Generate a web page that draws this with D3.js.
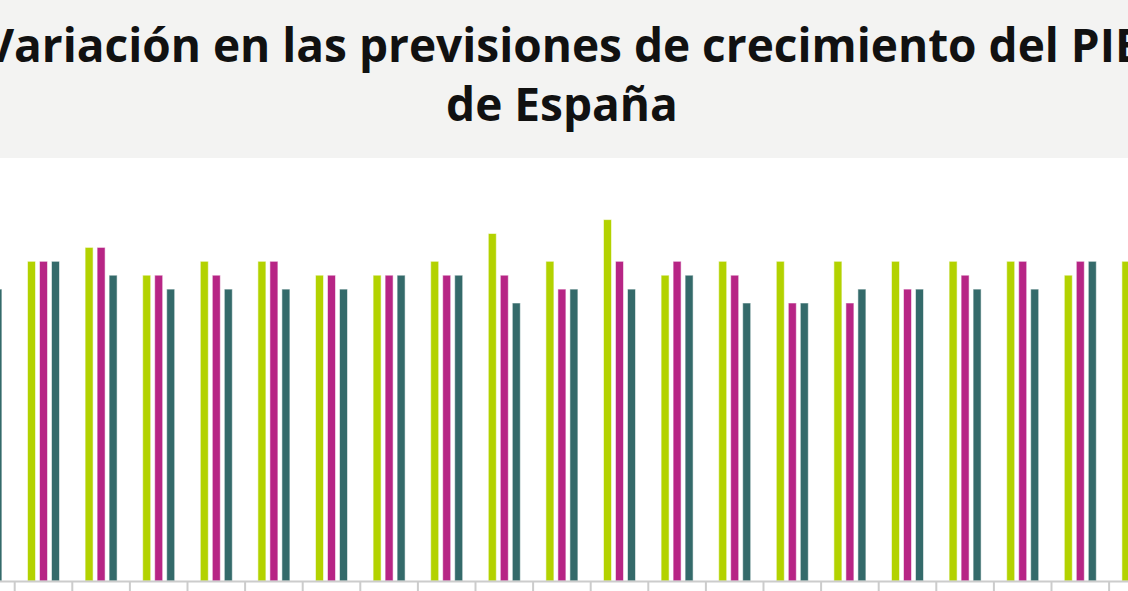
<!DOCTYPE html>
<html>
<head>
<meta charset="utf-8">
<script src="https://cdn.jsdelivr.net/npm/d3@7"></script>
<style>
    html, body { margin: 0; padding: 0; background: #ffffff; overflow: hidden; }
    #chart { width: 1128px; height: 591px; }
</style>
</head>
<body>
<div id="chart"></div>
<script>
// categorias (panel de previsiones) - las etiquetas no entran en el recorte
const categories = [
    'Consenso', 'AFI', 'BBVA Research', 'CaixaBank Research', 'Cámara de Comercio',
    'CEOE', 'CEPREDE-UAM', 'Equipo Económico', 'Funcas', 'ICAE-UCM', 'IEE',
    'Inst. Flores de Lemus', 'Intermoney', 'Mapfre', 'Repsol', 'Santander',
    'Solchaga Recio', 'Univ. Loyola', 'Gobierno', 'Banco de España', 'FMI'
];
const seriesNames = ['Previsión inicial', 'Previsión intermedia', 'Previsión actual'];
const serieInicial    = [2.3, 2.3, 2.4, 2.2, 2.3, 2.3, 2.2, 2.2, 2.3, 2.5, 2.3, 2.6, 2.2, 2.3, 2.3, 2.3, 2.3, 2.3, 2.3, 2.2, 2.3];
const serieIntermedia = [2.2, 2.3, 2.4, 2.2, 2.2, 2.3, 2.2, 2.2, 2.2, 2.2, 2.1, 2.3, 2.3, 2.2, 2.0, 2.0, 2.1, 2.2, 2.3, 2.3, 2.2];
const serieActual     = [2.1, 2.3, 2.2, 2.1, 2.1, 2.1, 2.1, 2.2, 2.2, 2.0, 2.1, 2.1, 2.2, 2.0, 2.0, 2.1, 2.1, 2.1, 2.1, 2.3, 2.1];
const yMax = 4.18;

const colors = ['#b3d200', '#b72585', '#346a6a'];
const width = 1128, height = 591;
const baseline = 581;

const rows = categories.map((c, i) => ({
    cat: c,
    values: [serieInicial[i], serieIntermedia[i], serieActual[i]]
}));

const svg = d3.select('#chart')
    .append('svg')
    .attr('width', width)
    .attr('height', height)
    .style('display', 'block');

// cabecera gris
svg.append('rect')
    .attr('x', 0)
    .attr('y', 0)
    .attr('width', width)
    .attr('height', 158)
    .attr('fill', '#f3f3f2');

const title = svg.append('text')
    .attr('text-anchor', 'middle')
    .attr('font-family', "'Open Sans', sans-serif")
    .attr('font-weight', 700)
    .attr('font-size', 46)
    .attr('fill', '#111111');
title.append('tspan').attr('x', 565).attr('y', 62).text('Variación en las previsiones de crecimiento del PIB');
title.append('tspan').attr('x', 562).attr('y', 121).text('de España');

// escalas
const x0 = d3.scaleBand()
    .domain(categories)
    .range([-42.9, 1166.7])
    .padding(0);

const x1 = d3.scaleBand()
    .domain(seriesNames)
    .range([12.8, 44.8])
    .paddingInner(1 / 3)
    .paddingOuter(0);

const y = d3.scaleLinear()
    .domain([0, yMax])
    .range([baseline, baseline - yMax * 139]);

const groups = svg.append('g')
    .selectAll('g')
    .data(rows)
    .join('g')
    .attr('transform', d => `translate(${x0(d.cat)},0)`);

groups.selectAll('rect')
    .data(d => d.values.map((v, i) => ({ name: seriesNames[i], value: v, idx: i })))
    .join('rect')
    .attr('x', d => x1(d.name))
    .attr('y', d => y(d.value))
    .attr('width', x1.bandwidth())
    .attr('height', d => y(0) - y(d.value))
    .attr('fill', d => colors[d.idx])
    .attr('stroke', '#ffffff')
    .attr('stroke-opacity', 0.55)
    .attr('stroke-width', 1);

// eje x con marcas entre categorias (sin etiquetas: quedan fuera del recorte)
const axis = svg.append('g')
    .attr('transform', `translate(0,${baseline})`)
    .call(d3.axisBottom(x0).tickSize(10).tickSizeOuter(0).tickFormat(''));

axis.select('.domain')
    .attr('stroke', '#cccccc')
    .attr('stroke-width', 2);
axis.selectAll('.tick line')
    .attr('stroke', '#cccccc')
    .attr('stroke-width', 2)
    .attr('x1', -x0.step() / 2)
    .attr('x2', -x0.step() / 2);
axis.selectAll('.tick text').remove();
</script>
</body>
</html>
